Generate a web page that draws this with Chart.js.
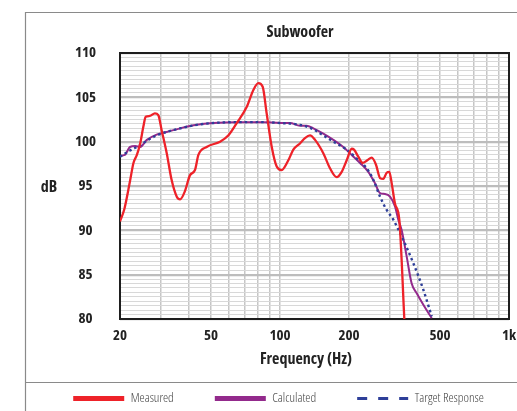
<!DOCTYPE html>
<html><head><meta charset="utf-8">
<script src="https://cdn.jsdelivr.net/npm/chart.js@4/dist/chart.umd.min.js"></script>
<style>html,body{margin:0;padding:0;background:#fff;overflow:hidden}#wrap{position:relative;width:517px;height:411px}</style>
</head><body><div id="wrap"><canvas id="c" width="517" height="411"></canvas></div>
<script>
const chartTitle = 'Subwoofer';
const xTitle = 'Frequency (Hz)';
const yTitle = 'dB';
const seriesNames = ['Measured', 'Calculated', 'Target Response'];
const xGridValues = [20,30,40,50,60,70,80,90,100,200,300,400,500,600,700,800,900,1000];
const xTickLabels = {20:'20',50:'50',100:'100',200:'200',500:'500',1000:'1k'};

const measuredFreq = [20,20.9,22.1,22.9,23.7,24.5,25.3,25.9,27.0,28.4,29.4,30.4,32.0,33.6,35.4,36.6,38.4,40.4,42.5,44.0,47.8,54.7,59.4,64.7,71.5,76.4,80.4,84.0,87.4,92.0,96.7,101.7,108.7,114.3,122.2,128.5,135.2,142.2,154.5,165.3,176.8,185.9,195.5,205.6,210.4,219.7,229.6,240.5,251.4,262.5,273.3,282.5,292.3,300.1,307.4,317.8,331.8,349];
const measuredDb = [91.0,92.4,95.5,97.6,98.5,99.8,101.7,102.8,102.9,103.2,103.0,101.3,98.7,95.7,93.8,93.5,94.4,96.2,96.8,98.5,99.4,100.0,100.7,102.1,103.9,105.8,106.6,106.2,103.2,99.4,97.2,96.8,97.9,99.1,99.8,100.4,100.7,100.2,98.7,97.0,96.0,96.6,97.9,99.2,99.1,98.3,97.6,97.9,98.2,97.4,95.9,95.8,96.5,96.6,95.3,93.0,91.2,80.0];

const calcFreq = [20,21.0,22.1,23.3,24.5,26.2,28.9,32.0,36.6,43.3,51.1,64.7,84.5,100,110.5,122.2,130.8,139.8,154.5,170.9,188.9,205.6,223.5,242.9,259.9,273.3,287.4,302.2,317.8,328.5,339.9,357.6,375.8,395.4,422.5,459.6];
const calcDb = [98.4,98.5,99.4,99.5,99.4,100.2,100.8,101.1,101.5,101.9,102.1,102.2,102.2,102.1,102.1,101.8,101.8,101.5,100.9,100.2,99.4,98.5,97.6,96.6,95.3,94.2,94.1,93.8,92.7,91.2,90.0,87.0,84.0,82.9,81.6,80.1];

const targetFreq = [20,22.1,24.5,26.2,28.9,32.0,36.6,43.3,51.1,64.7,84.5,100,122.2,139.8,154.5,170.9,195.5,216.2,239.0,255.5,273.3,292.3,312.4,345.5,382.0,422.5,459.6];
const targetDb = [98.3,99.0,99.6,100.1,100.7,101.1,101.5,101.9,102.1,102.2,102.2,102.1,101.9,101.4,100.7,100.0,99.1,98.1,97.0,95.7,93.8,92.3,91.2,88.9,86.3,83.3,80.3];

const FONT = "'Open Sans', 'Liberation Sans', Arial, sans-serif";
const BOLD = 'bold condensed';
const pts = (xs, ys) => xs.map((x, i) => ({x, y: ys[i]}));

const decor = {
  id: 'decor',
  afterLayout(chart) {
    chart.legend.left += 20;
    chart.legend.right += 20;
    chart.titleBlock.left += 41.5;
    chart.titleBlock.right += 41.5;
  },
  beforeDatasetsDraw(chart) {
    const {ctx, chartArea: a} = chart;
    ctx.save();
    ctx.strokeStyle = '#1e1e1e';
    ctx.lineWidth = 2;
    ctx.strokeRect(a.left, a.top, a.right - a.left, a.bottom - a.top);
    ctx.restore();
  },
  afterDraw(chart) {
    const {ctx} = chart;
    ctx.save();
    ctx.strokeStyle = '#8a8a8a';
    ctx.lineWidth = 1.2;
    ctx.beginPath();
    ctx.moveTo(25.5, 411); ctx.lineTo(25.5, 12.5); ctx.lineTo(517, 12.5);
    ctx.moveTo(25.5, 382.5); ctx.lineTo(517, 382.5);
    ctx.stroke();
    ctx.fillStyle = '#222';
    ctx.font = BOLD + ' 16px ' + FONT;
    ctx.textAlign = 'center';
    ctx.textBaseline = 'middle';
    ctx.fillText(yTitle, 49, 187);
    ctx.fillText(xTitle, 306, 359.5);
    ctx.restore();
  }
};

new Chart(document.getElementById('c'), {
  type: 'line',
  data: {
    datasets: [
      {label: seriesNames[0], data: pts(measuredFreq, measuredDb), borderColor: '#ee2229', backgroundColor: '#ee2229', borderWidth: 2.3, pointRadius: 0, cubicInterpolationMode: 'monotone', order: 0},
      {label: seriesNames[1], data: pts(calcFreq, calcDb), borderColor: '#932a8c', backgroundColor: '#932a8c', borderWidth: 2, pointRadius: 0, cubicInterpolationMode: 'monotone', order: 2},
      {label: seriesNames[2], data: pts(targetFreq, targetDb), borderColor: '#2e3f99', backgroundColor: '#2e3f99', borderWidth: 2.4, borderDash: [2.5, 3], pointRadius: 0, cubicInterpolationMode: 'monotone', order: 1}
    ]
  },
  options: {
    responsive: false,
    animation: false,
    events: [],
    layout: {padding: {left: 0, right: 0, top: 15, bottom: -4}},
    plugins: {
      tooltip: {enabled: false},
      title: {display: true, text: chartTitle, color: '#222', font: {family: FONT, size: 16, weight: BOLD}, padding: {top: 8, bottom: 10.8}},
      legend: {
        position: 'bottom',
        labels: {
          usePointStyle: true,
          pointStyle: 'line',
          pointStyleWidth: 51,
          padding: 41,
          color: '#444',
          font: {family: FONT, size: 13, weight: '300 condensed'},
          sort: (a, b) => a.datasetIndex - b.datasetIndex,
          generateLabels(chart) {
            const items = Chart.defaults.plugins.legend.labels.generateLabels(chart);
            items.forEach(it => {
              it.pointStyle = 'line';
              if (it.datasetIndex === 2) { it.lineWidth = 3; it.lineDash = [10, 11]; }
              else { it.lineWidth = 5; it.lineDash = []; }
            });
            return items;
          }
        }
      }
    },
    scales: {
      x: {
        type: 'logarithmic', min: 20, max: 1000,
        afterBuildTicks(scale) { scale.ticks = xGridValues.map(v => ({value: v})); },
        afterFit(scale) { scale.height = 32; scale.paddingRight = 8; scale.paddingLeft = 0; },
        border: {display: false},
        grid: {color: '#c6c6c6', lineWidth: 1.5, drawTicks: false},
        ticks: {autoSkip: false, maxRotation: 0, padding: 8, color: '#222', font: {family: FONT, size: 15, weight: BOLD},
          callback: (v) => xTickLabels[v] || ''}
      },
      y: {
        min: 80, max: 110,
        afterFit(scale) { scale.width = 120; },
        border: {display: false},
        grid: {drawTicks: false,
          color: (c) => (c.tick && Math.abs(c.tick.value % 5) < 1e-6) ? '#bdbdbd' : '#d8d8d8',
          lineWidth: (c) => (c.tick && Math.abs(c.tick.value % 5) < 1e-6) ? 2.2 : 1},
        ticks: {stepSize: 0.5, autoSkip: false, crossAlign: 'center', padding: 24, color: '#222', font: {family: FONT, size: 15, weight: BOLD},
          callback: (v) => (Math.abs(v % 5) < 1e-6) ? String(v) : ''}
      }
    }
  },
  plugins: [decor]
});
</script></body></html>
